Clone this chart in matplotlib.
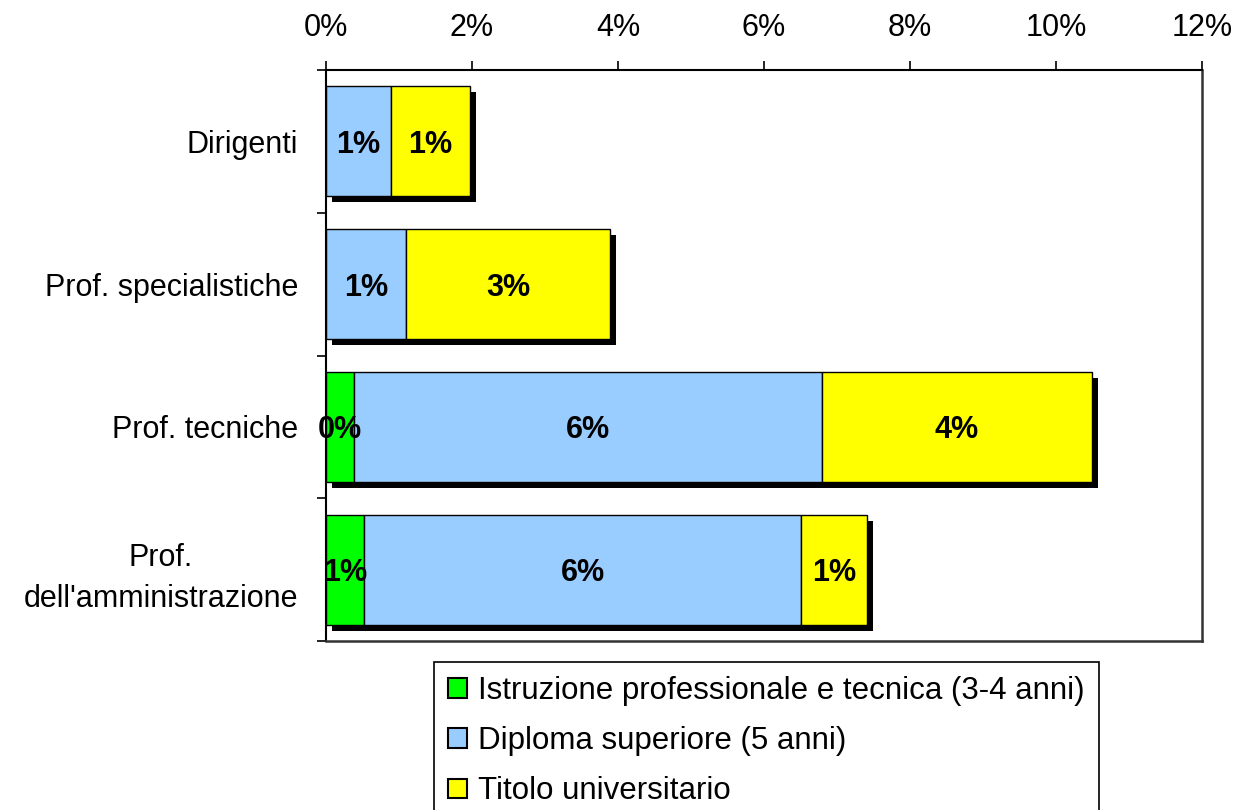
import matplotlib.pyplot as plt
import matplotlib.patheffects as pe
import numpy as np

plt.rcParams["font.family"] = ["Liberation Sans", "DejaVu Sans"]

categories = ["Dirigenti", "Prof. specialistiche", "Prof. tecniche", "Prof.\ndell'amministrazione"]
series_names = ["Istruzione professionale e tecnica (3-4 anni)", "Diploma superiore (5 anni)", "Titolo universitario"]
istruzione = [0.0, 0.0, 0.38, 0.52]
diploma = [0.89, 1.10, 6.41, 5.99]
titolo = [1.08, 2.79, 3.70, 0.90]
colors = ["#00FF00", "#99CCFF", "#FFFF00"]
xticks = [0, 2, 4, 6, 8, 10, 12]

fig = plt.figure(figsize=(12.37, 8.10), dpi=100)
ax = fig.add_axes([0.2635, 0.2086, 0.7082, 0.705])

y = np.arange(len(categories))
left = np.zeros(len(categories))
shadow = [pe.SimplePatchShadow(offset=(4.3, -4.3), shadow_rgbFace="black", alpha=1), pe.Normal()]
for name, vals, col in zip(series_names, [istruzione, diploma, titolo], colors):
    vals = np.array(vals)
    bars = ax.barh(y, vals, left=left, height=0.77, color=col, edgecolor="black",
                   linewidth=1, label=name)
    for b, v, l in zip(bars, vals, left):
        if v > 0:
            b.set_path_effects(shadow)
            ax.text(l + v / 2, b.get_y() + b.get_height() / 2, f"{v:.0f}%",
                    ha="center", va="center_baseline", fontsize=22, fontweight="bold")
    left = left + vals

ax.set_xlim(0, 12)
ax.set_ylim(3.5, -0.5)
ax.xaxis.tick_top()
ax.set_xticks(xticks)
ax.set_xticklabels([f"{t}%" for t in xticks], fontsize=22)
ax.tick_params(axis="x", direction="out", length=6.5, width=1.2, pad=13)

ax.set_yticks(y)
ax.set_yticklabels(categories, fontsize=22, multialignment="center", linespacing=1.45)
ax.set_yticks(np.arange(-0.5, 4, 1), minor=True)
ax.tick_params(axis="y", which="major", length=0, pad=20)
ax.tick_params(axis="y", which="minor", direction="out", length=6.5, width=1.2)

for s in ["top", "left"]:
    ax.spines[s].set_linewidth(1.5)
    ax.spines[s].set_color("black")
for s in ["right", "bottom"]:
    ax.spines[s].set_linewidth(1.8)
    ax.spines[s].set_color("#333333")

leg = fig.legend(loc="upper left", bbox_to_anchor=(0.351, 0.183), fontsize=22.5,
                 frameon=True, fancybox=False, edgecolor="black", framealpha=1,
                 handlelength=0.6, handleheight=0.6, handletextpad=0.35,
                 labelspacing=0.65, borderpad=0.45, borderaxespad=0)
leg.get_frame().set_linewidth(1.2)
for h in leg.legend_handles:
    h.set_path_effects([])
    h.set_linewidth(1.5)

fig.savefig("out.png", dpi=100)
